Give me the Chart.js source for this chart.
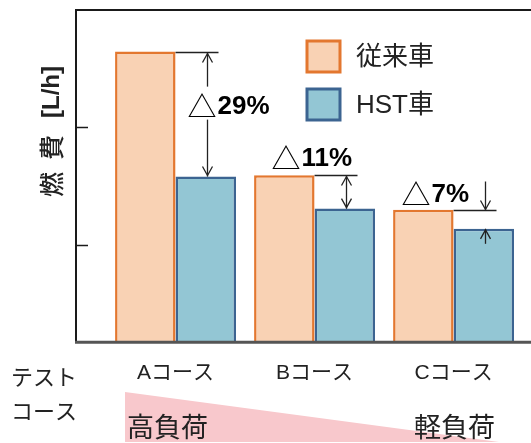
<!DOCTYPE html>
<html>
<head>
<meta charset="utf-8">
<script src="https://cdn.jsdelivr.net/npm/chart.js@4"></script>
<style>
body { margin: 0; background: #fff; }
</style>
</head>
<body>
<canvas id="myChart" width="531" height="443"></canvas>
<script>
// fuel consumption per test course
var categories = ['Aコース', 'Bコース', 'Cコース'];
var seriesNames = ['従来車', 'HST車'];
var conventional = [3.63, 2.59, 2.30];
var hstValues = [2.58, 2.31, 2.14];
var yTickValues = [2, 3];

var FONT = "'Liberation Sans', 'Noto Sans CJK JP', sans-serif";

function arrowHead(ctx, x, y, dir) {
    // dir 1 = pointing down, -1 = pointing up
    ctx.beginPath();
    ctx.moveTo(x - 5, y - 9 * dir);
    ctx.lineTo(x, y);
    ctx.lineTo(x + 5, y - 9 * dir);
    ctx.stroke();
}

function vline(ctx, x, y1, y2) {
    ctx.beginPath();
    ctx.moveTo(x, y1);
    ctx.lineTo(x, y2);
    ctx.stroke();
}

function deltaText(ctx, x, cy, pct) {
    ctx.textBaseline = 'middle';
    ctx.textAlign = 'left';
    ctx.fillStyle = '#000';
    ctx.font = "29px 'Noto Sans CJK JP'";
    ctx.fillText('△', x - 1, cy + 1);
    var w = ctx.measureText('△').width;
    ctx.font = "bold 26px 'Liberation Sans'";
    ctx.fillText(pct + '%', x + w, cy + 1);
}

var decor = {
    id: 'decor',
    afterDatasetsDraw: function(chart) {
        var ctx = chart.ctx, a = chart.chartArea, y = chart.scales.y;
        ctx.save();

        // frame: left and top in black, base line in grey
        ctx.strokeStyle = '#1a1a1a';
        ctx.lineWidth = 2;
        ctx.beginPath();
        ctx.moveTo(a.left, a.bottom);
        ctx.lineTo(a.left, a.top);
        ctx.lineTo(chart.width, a.top);
        ctx.stroke();
        ctx.strokeStyle = '#555';
        ctx.lineWidth = 3;
        ctx.beginPath();
        ctx.moveTo(a.left - 1, a.bottom + 0.5);
        ctx.lineTo(chart.width, a.bottom + 0.5);
        ctx.stroke();

        // inward tick marks
        ctx.strokeStyle = '#1a1a1a';
        ctx.lineWidth = 1.5;
        yTickValues.forEach(function(v) {
            var p = Math.round(y.getPixelForValue(v)) + 0.5;
            ctx.beginPath();
            ctx.moveTo(a.left, p);
            ctx.lineTo(a.left + 12, p);
            ctx.stroke();
        });

        // difference markers
        var m0 = chart.getDatasetMeta(0).data, m1 = chart.getDatasetMeta(1).data;
        ctx.strokeStyle = '#222';
        ctx.lineWidth = 1.3;
        for (var i = 0; i < categories.length; i++) {
            var c = m0[i], h = m1[i];
            var pct = Math.round((1 - hstValues[i] / conventional[i]) * 100);
            var cRight = c.x + c.width / 2;
            var ax = Math.round(h.x + 1) + 0.5;
            var topY = Math.round(c.y) + 0.5;
            ctx.beginPath();
            ctx.moveTo(cRight, topY);
            ctx.lineTo(ax + 11, topY);
            ctx.stroke();
            if (i === 0) {
                var ty = c.y + 54;
                vline(ctx, ax, topY, ty - 19);
                vline(ctx, ax, ty + 14, h.y);
                arrowHead(ctx, ax, topY + 1, -1);
                arrowHead(ctx, ax, h.y - 1, 1);
                deltaText(ctx, h.x - h.width / 2 + 13, ty, pct);
            } else if (i === 1) {
                vline(ctx, ax, topY, h.y);
                arrowHead(ctx, ax, topY + 1, -1);
                arrowHead(ctx, ax, h.y - 1, 1);
                deltaText(ctx, cRight - 42, c.y - 17, pct);
            } else {
                vline(ctx, ax, topY - 29, topY);
                vline(ctx, ax, h.y, h.y + 15);
                arrowHead(ctx, ax, topY - 1, 1);
                arrowHead(ctx, ax, h.y + 1, -1);
                deltaText(ctx, cRight - 51, c.y - 16, pct);
            }
        }

        // legend
        chart.data.datasets.forEach(function(ds, k) {
            var by = 41 + k * 48;
            ctx.fillStyle = ds.backgroundColor;
            ctx.strokeStyle = ds.borderColor;
            ctx.lineWidth = 3;
            ctx.fillRect(307, by, 33, 31);
            ctx.strokeRect(307, by, 33, 31);
            ctx.fillStyle = '#222';
            ctx.font = '26px ' + FONT;
            ctx.textAlign = 'left';
            ctx.textBaseline = 'middle';
            ctx.fillText(ds.label, 356, by + 17);
        });

        // y axis title
        ctx.save();
        ctx.translate(51, 197);
        ctx.rotate(-Math.PI / 2);
        ctx.fillStyle = '#222';
        ctx.textAlign = 'left';
        ctx.textBaseline = 'middle';
        ctx.font = "500 25px 'Noto Sans CJK JP'";
        ctx.fillText('燃', 0, 0);
        ctx.fillText('費', 37, 0);
        ctx.font = "bold 24px 'Liberation Sans'";
        ctx.fillText('[L/h]', 79, 1);
        ctx.restore();

        // course caption and load wedge
        ctx.fillStyle = '#F8C8CC';
        ctx.beginPath();
        ctx.moveTo(125, 392);
        ctx.lineTo(125, 442);
        ctx.lineTo(499, 442);
        ctx.closePath();
        ctx.fill();

        ctx.fillStyle = '#222';
        ctx.textAlign = 'left';
        ctx.textBaseline = 'middle';
        ctx.font = "22px 'Noto Sans CJK JP'";
        ctx.fillText('テスト', 11, 377);
        ctx.fillText('コース', 11, 411);
        ctx.font = "27px 'Noto Sans CJK JP'";
        ctx.fillText('高負荷', 127, 427);
        ctx.fillText('軽負荷', 414, 427);

        ctx.restore();
    }
};

var ctx = document.getElementById('myChart').getContext('2d');
var chart = new Chart(ctx, {
    type: 'bar',
    data: {
        datasets: [{
            label: seriesNames[0],
            data: conventional.map(function(v, i) { return {x: i, y: v}; }),
            backgroundColor: '#F9D2B4',
            borderColor: '#E3772F',
            borderWidth: 2.5,
            borderSkipped: false
        }, {
            label: seriesNames[1],
            data: hstValues.map(function(v, i) { return {x: i, y: v}; }),
            backgroundColor: '#93C6D4',
            borderColor: '#3C6491',
            borderWidth: 2.5,
            borderSkipped: false
        }]
    },
    options: {
        responsive: false,
        animation: false,
        categoryPercentage: 0.87,
        barPercentage: 1,
        layout: { padding: { left: 76, right: 0, top: 10, bottom: 38 } },
        plugins: {
            legend: { display: false },
            tooltip: { enabled: false }
        },
        scales: {
            x: {
                type: 'linear',
                offset: false,
                min: -0.716,
                max: 2.557,
                grid: { display: false, drawTicks: false, offset: false },
                border: { display: false },
                afterBuildTicks: function(scale) {
                    scale.ticks = categories.map(function(c, i) { return {value: i}; });
                },
                ticks: {
                    autoSkip: false,
                    maxRotation: 0,
                    padding: 19,
                    color: '#222',
                    font: { family: FONT, size: 21 },
                    callback: function(v) { return categories[v]; }
                }
            },
            y: {
                display: false,
                min: 1.19,
                max: 3.98
            }
        }
    },
    plugins: [decor]
});
</script>
</body>
</html>
